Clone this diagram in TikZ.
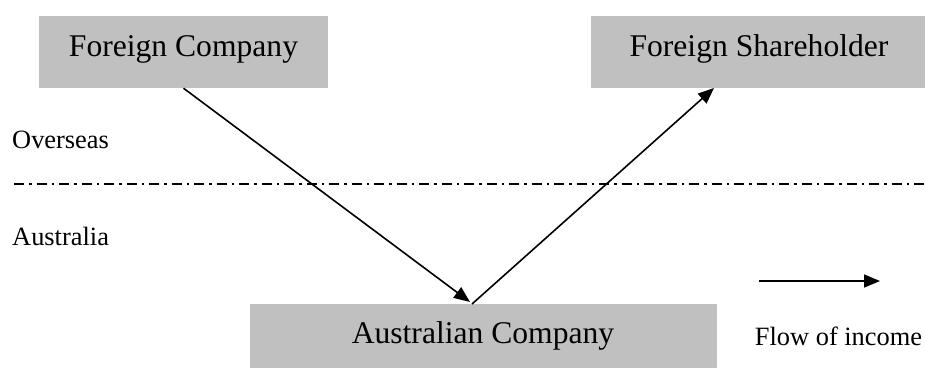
\documentclass[tikz,border=0pt]{standalone}
\usepackage{fontspec}
\setmainfont{Liberation Serif}
\usetikzlibrary{arrows.meta}
\definecolor{boxgray}{HTML}{C0C0C0}
\begin{document}
\begin{tikzpicture}[x=1pt,y=-1pt,
  box/.style={fill=boxgray, draw=none, inner sep=0pt, font=\fontsize{31.6}{36}\selectfont, text height=14pt, text depth=6pt},
  small/.style={inner sep=0pt, font=\fontsize{26.4}{30}\selectfont},
  flow/.style={line width=1.6pt, -{Triangle[length=16pt,width=13pt]}},
  divider/.style={line width=1.2pt, dash pattern=on 10pt off 5pt on 2.5pt off 5pt}]
\useasboundingbox (0,0) rectangle (925,368);
\node[box, minimum width=289pt, minimum height=72pt] (fc) at (183.5,52) {Foreign Company};
\node[box, minimum width=336pt, minimum height=72pt] (fs) at (759,52) {Foreign Shareholder};
\node[box, minimum width=467pt, minimum height=64pt, text height=20pt, text depth=6pt] (ac) at (483,336) {Australian Company};
\node[small, anchor=base west] (ov) at (12,148) {Overseas};
\node[small, anchor=base west] (au) at (12,245) {Australia};
\node[small, anchor=base] (fl) at (838.5,345) {Flow of income};
\coordinate (d1) at (14,184);
\coordinate (d2) at (925,184);
\draw[divider] (d1) -- (d2);
\coordinate (t1) at (470,302);
\coordinate (s2) at (472,304);
\coordinate (t2) at (714,88);
\draw[flow] (fc.south) -- (t1);
\draw[flow] (s2) -- (t2);
\coordinate (l1) at (759,281);
\coordinate (l2) at (880,281);
\draw[flow] (l1) -- (l2);
\end{tikzpicture}
\end{document}
